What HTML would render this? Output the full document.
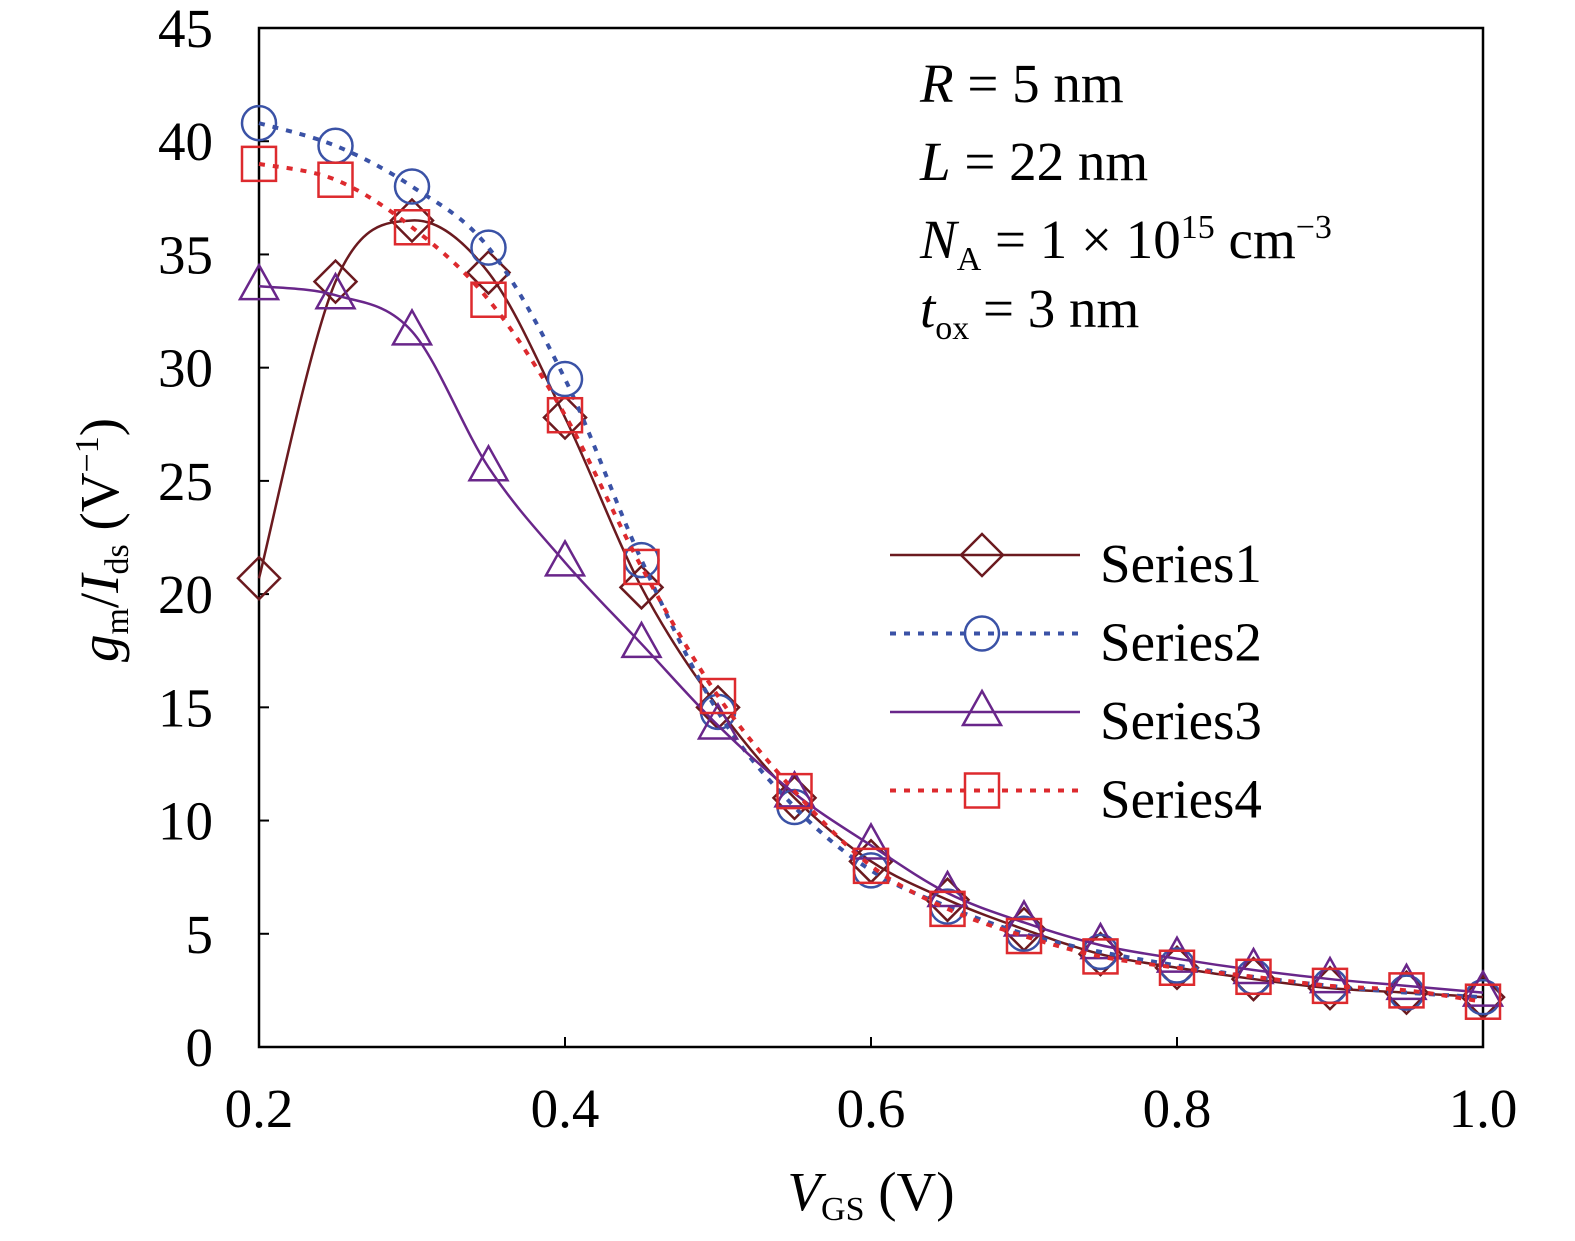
<!DOCTYPE html>
<html><head><meta charset="utf-8"><style>
html,body{margin:0;padding:0;background:#fff;}
svg{display:block;font-family:"Liberation Serif",serif;}
</style></head><body>
<svg id="chart" width="1575" height="1241" viewBox="0 0 1575 1241" xmlns="http://www.w3.org/2000/svg">
<rect x="259" y="28" width="1224" height="1019" fill="none" stroke="#000" stroke-width="2.5"/>
<g id="ticks"></g>
<g id="series"></g>
<g font-size="55" fill="#000">
<text x="920" y="102"><tspan font-style="italic">R</tspan> = 5 nm</text>
<text x="920" y="180"><tspan font-style="italic">L</tspan> = 22 nm</text>
<text x="920" y="258"><tspan font-style="italic">N</tspan><tspan font-size="34" dy="12">A</tspan><tspan dy="-12"> =  1 × 10</tspan><tspan font-size="34" dy="-20">15</tspan><tspan dy="20"> cm</tspan><tspan font-size="34" dy="-20">−3</tspan></text>
<text x="920" y="327"><tspan font-style="italic">t</tspan><tspan font-size="34" dy="12">ox</tspan><tspan dy="-12"> = 3 nm</tspan></text>
</g>
<text x="871" y="1210" font-size="55" text-anchor="middle"><tspan font-style="italic">V</tspan><tspan font-size="34" dy="10">GS</tspan><tspan dy="-10"> (V)</tspan></text>
<text transform="translate(118,540) rotate(-90)" font-size="55" text-anchor="middle"><tspan font-style="italic">g</tspan><tspan font-size="34" dy="10">m</tspan><tspan dy="-10">/</tspan><tspan font-style="italic">I</tspan><tspan font-size="34" dy="10">ds</tspan><tspan dy="-10"> (V</tspan><tspan font-size="34" dy="-20">−1</tspan><tspan dy="20">)</tspan></text>
<g id="legend"></g>
</svg>
<script>
const xVals=[0.2,0.25,0.3,0.35,0.4,0.45,0.5,0.55,0.6,0.65,0.7,0.75,0.8,0.85,0.9,0.95,1.0];
const series1=[20.7,33.8,36.5,34.2,27.8,20.3,15.0,11.0,8.2,6.5,5.2,4.1,3.5,3.0,2.6,2.4,2.2];
const series2=[40.8,39.8,38.0,35.3,29.5,21.5,14.8,10.6,7.8,6.2,5.0,4.2,3.6,3.1,2.7,2.4,2.2];
const series3=[33.6,33.2,31.6,25.6,21.4,17.8,14.2,11.2,8.9,6.8,5.5,4.5,3.9,3.4,3.0,2.7,2.4];
const series4=[39.0,38.3,36.2,33.0,27.9,21.2,15.5,11.3,8.0,6.1,4.9,4.0,3.5,3.1,2.7,2.5,2.0];
const xTicks=[0.2,0.4,0.6,0.8,1.0];
const xTickLabels=["0.2","0.4","0.6","0.8","1.0"];
const yTicks=[0,5,10,15,20,25,30,35,40,45];
const seriesNames=["Series1","Series2","Series3","Series4"];
const NS="http://www.w3.org/2000/svg";
const X=v=>259+(v-0.2)/0.8*1224;
const Y=v=>1047-v/45*1019;
function mk(tag,attrs,parent){const e=document.createElementNS(NS,tag);for(const k in attrs)e.setAttribute(k,attrs[k]);parent.appendChild(e);return e;}
const tg=document.getElementById('ticks');
xTicks.forEach((t,i)=>{
  const l=mk('line',{x1:X(t),x2:X(t),y1:1047,y2:1037,stroke:'#000','stroke-width':2},tg);
  
  
  const tx=mk('text',{x:X(t),y:1127,'font-size':55,'text-anchor':'middle'},tg);tx.textContent=xTickLabels[i];
  
  
});
yTicks.forEach(t=>{
  const l=mk('line',{x1:259,x2:269,y1:Y(t),y2:Y(t),stroke:'#000','stroke-width':2},tg);
  
  
  const tx=mk('text',{x:213,y:Y(t)+19,'font-size':55,'text-anchor':'end'},tg);tx.textContent=t;
  
  
});
function smooth(pts){let d=`M${pts[0][0]},${pts[0][1]}`;for(let i=0;i<pts.length-1;i++){const p0=pts[i-1]||pts[i],p1=pts[i],p2=pts[i+1],p3=pts[i+2]||p2;const c1=[p1[0]+(p2[0]-p0[0])/6,p1[1]+(p2[1]-p0[1])/6],c2=[p2[0]-(p3[0]-p1[0])/6,p2[1]-(p3[1]-p1[1])/6];d+=` C${c1[0]},${c1[1]} ${c2[0]},${c2[1]} ${p2[0]},${p2[1]}`;}return d;}
const cfg=[{data:series1,color:'#6b1a1f',dash:null,m:'diamond'},{data:series2,color:'#3a52a6',dash:'6,8',m:'circle'},{data:series3,color:'#69268a',dash:null,m:'triangle'},{data:series4,color:'#dd2a2e',dash:'6,8',m:'square'}];
function marker(g,type,x,y,c){let e;
  if(type==='diamond')e=mk('polygon',{points:`${x},${y-21} ${x+21},${y} ${x},${y+21} ${x-21},${y}`},g);
  else if(type==='circle')e=mk('circle',{cx:x,cy:y,r:17},g);
  else if(type==='triangle')e=mk('polygon',{points:`${x},${y-21} ${x+19},${y+13} ${x-19},${y+13}`},g);
  else e=mk('rect',{x:x-17,y:y-17,width:34,height:34},g);
  e.setAttribute('fill','none');e.setAttribute('stroke',c);e.setAttribute('stroke-width',2.5);return e;}
const sg=document.getElementById('series');
cfg.forEach((s,i)=>{
  const g=mk('g',{},sg);
  
  
  const pts=s.data.map((v,j)=>[X(xVals[j]),Y(v)]);
  const p=mk('path',{d:smooth(pts),fill:'none',stroke:s.color,'stroke-width':s.dash?4:2.5},g);
  if(s.dash)p.setAttribute('stroke-dasharray',s.dash);
  
  
  pts.forEach(q=>{const m=marker(g,s.m,q[0],q[1],s.color);
    
    });
});
const lg=document.getElementById('legend');
cfg.forEach((s,i)=>{
  const y=555+i*78.5;
  const g=mk('g',{},lg);
  
  
  const l=mk('line',{x1:890,x2:1080,y1:y,y2:y,stroke:s.color,'stroke-width':s.dash?4:2.5},g);
  if(s.dash)l.setAttribute('stroke-dasharray',s.dash);
  marker(g,s.m,982,y,s.color);
  const t=mk('text',{x:1100,y:y+27,'font-size':55},g);t.textContent=seriesNames[i];
});
</script>
</body></html>
